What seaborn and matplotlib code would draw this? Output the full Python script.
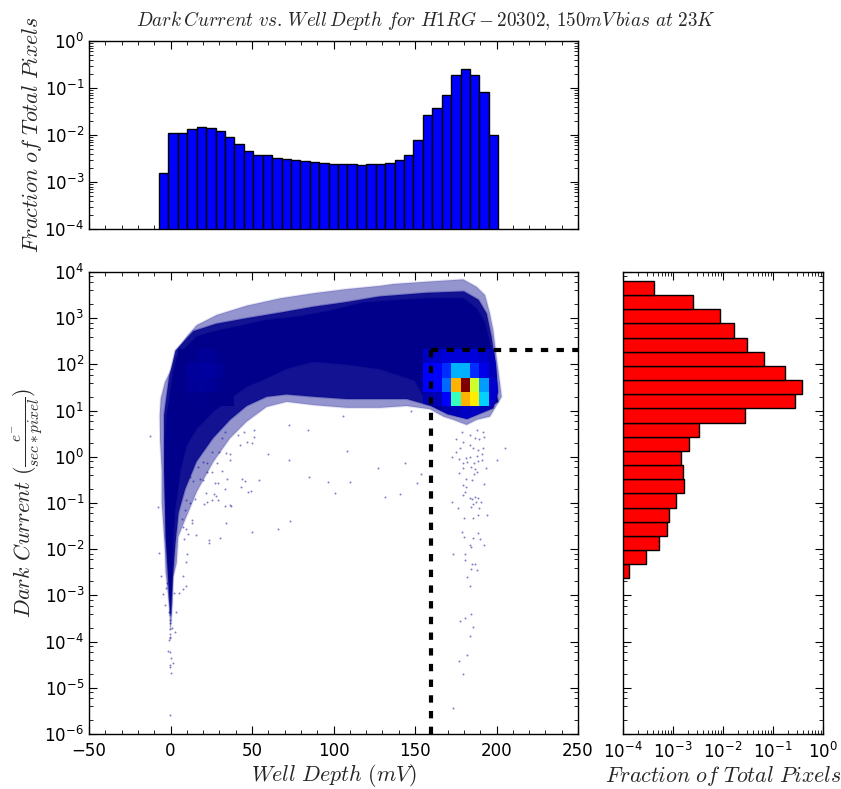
import numpy as np
import matplotlib
matplotlib.use("Agg")
import matplotlib.pyplot as plt
from matplotlib.patches import Polygon
from matplotlib.ticker import FixedLocator, LogLocator, MultipleLocator, NullFormatter
import seaborn as sns

sns.set_style("ticks")
plt.rcParams.update({
    'mathtext.fontset': 'cm',
    'lines.scale_dashes': False,
    'axes.edgecolor': 'black',
    'axes.linewidth': 1.0,
    'xtick.color': 'black',
    'ytick.color': 'black',
    'font.family': ['DejaVu Sans'],
})

# Well depth histogram (log10 of fraction, left to right)
depth_edges = np.linspace(-7.05, 201.1, 37)
depth_log_frac = [-2.81, -1.96, -1.96, -1.88, -1.84, -1.855, -1.92, -2.04, -2.195,
                  -2.337, -2.415, -2.436, -2.49, -2.515, -2.535, -2.556, -2.57, -2.59,
                  -2.61, -2.61, -2.61, -2.63, -2.61, -2.61, -2.59, -2.535, -2.415,
                  -2.096, -1.572, -1.416, -1.14, -0.73, -0.588, -0.73, -1.084, -2.0]

# Dark current histogram (log10 of fraction, top to bottom)
current_log_edges = np.linspace(3.805, -2.63, 22)
current_log_frac = [-3.38, -2.6, -2.053, -1.773, -1.513, -1.173, -0.76, -0.42, -0.56,
                    -1.567, -2.48, -2.673, -2.84, -2.807, -2.787, -2.933, -3.087,
                    -3.12, -3.287, -3.533, -3.887]

# Hot part of the 2D density, rows top to bottom
heat_log_edges = [2.33, 2.02, 1.71, 1.40, 1.09, 0.78]
heat_values = [[0.06, 0.07, 0.08, 0.08, 0.08, 0.08, 0.07, 0.05],
               [0.11, 0.11, 0.17, 0.30, 0.30, 0.17, 0.09, 0.05],
               [0.11, 0.11, 0.23, 0.72, 1.00, 0.60, 0.28, 0.07],
               [0.04, 0.05, 0.11, 0.42, 0.72, 0.66, 0.33, 0.07],
               [0.01, 0.02, 0.04, 0.05, 0.06, 0.06, 0.05, 0.03]]

# Faint bump of the density near the low well depth end
cold_log_edges = [2.33, 2.02, 1.71, 1.40, 1.09]
cold_values = [[0.01, 0.015, 0.02, 0.02, 0.015, 0.01],
               [0.015, 0.025, 0.03, 0.03, 0.02, 0.01],
               [0.015, 0.02, 0.025, 0.02, 0.015, 0.01],
               [0.01, 0.015, 0.015, 0.01, 0.01, 0.01]]

# Outlines of the pixel cloud (well depth, log10 dark current)
outer_cloud = [(0, -3.75), (-0.8, -3.2), (-3, -2.5), (-3.5, -2), (-4.4, -1.5), (-5.4, -1), (-5.4, -0.3),
               (-6.4, 0.36), (-6.6, 0.9), (-6.0, 1.26), (-3.4, 1.62), (0.7, 1.91), (4.8, 2.35), (9.9, 2.6),
               (16.1, 2.85), (28.4, 3.07), (46.7, 3.27), (67.2, 3.43), (87.7, 3.54), (108.1, 3.63),
               (128.5, 3.70), (136.7, 3.74), (157.2, 3.79), (179.6, 3.84), (187.8, 3.68), (193, 3.5),
               (196, 3.1), (198, 2.75), (200, 2.17), (202.2, 1.59), (203.2, 1.3), (196, 0.87), (187.8, 0.8),
               (181.7, 0.69), (173.5, 0.8), (167.4, 0.87), (159.2, 1.03), (144.9, 1.1), (128.5, 1.06),
               (108.1, 1.06), (87.7, 1.12), (71.3, 1.19), (59, 1.08), (46.7, 0.76), (36.5, 0.4), (26.3, -0.11),
               (16.1, -0.76), (14, -0.94), (8.9, -1.37), (4.8, -1.73), (3.8, -2.3), (1.7, -2.6), (1.2, -3.17),
               (0.5, -3.6)]
mid_cloud = [(0, -3.4), (-0.5, -3.2), (-1.5, -2.6), (-3, -1.7), (-3.5, -1), (-4, -0.3), (-4, 0.4), (-4, 0.9),
             (-2.5, 1.3), (-1, 1.7), (1, 2.0), (3, 2.3), (14, 2.72), (28, 2.88), (46.7, 3.0), (67, 3.12),
             (88, 3.25), (108, 3.35), (128, 3.47), (157, 3.55), (180, 3.58), (189, 3.4), (194, 3.1), (197, 2.6),
             (199.5, 2), (201, 1.4), (198, 1.05), (182, 0.82), (170, 0.92), (160, 1.1), (145, 1.25), (128, 1.25),
             (108, 1.25), (88, 1.3), (71, 1.35), (59, 1.3), (46.7, 1.1), (36.5, 0.8), (26, 0.4), (16, -0.1),
             (9, -0.7), (5, -1.2), (3, -1.9), (1.5, -2.6), (0.5, -3.2)]
core_cloud = [(0, -3.45), (-0.7, -2.88), (-2.8, -1.73), (-2.8, -1.08), (-3.4, -0.43), (-3.4, 0.36), (-2.3, 0.9),
              (-0.7, 1.26), (1.8, 1.84), (3.8, 2.13), (5.9, 2.24), (16.1, 2.6), (26.3, 2.71), (40.6, 2.82),
              (59, 2.96), (77.4, 3.03), (97.9, 3.16), (118.3, 3.34), (138.7, 3.39), (159.2, 3.43), (179.6, 3.43),
              (187.8, 3.21), (193, 2.89), (196, 2.46), (198.5, 1.88), (200, 1.37), (201.1, 1.19), (191.9, 1.01),
              (181.7, 0.87), (171.5, 0.98), (163.3, 1.12), (157.2, 1.19), (150, 1.65), (128.5, 1.9), (108.1, 2.0),
              (87.7, 2.06), (71.3, 1.91), (59, 1.70), (46.7, 1.52), (36.5, 1.26), (26.3, 0.98), (16.1, 0.61),
              (9.9, 0.25), (5.9, -0.32), (4.8, -0.65), (2.8, -1.15), (1.7, -1.73), (1.1, -2.3), (0.5, -2.88),
              (0.3, -3.39)]

# Stray pixels outside the cloud
stray_depth = [106.0, 108.3, 127.3, 143.9, 109.9, 100.7, 131.4, 141.0, 153.5, 151.2, 147.7,
               175.1, 178.6, 183.7, 187.8, 191.5, 192.3, 189.5, 186.8, 179.6, 183.7, 185.8, 188.9, 191.5,
               175.1, 177.6, 172.5, 177.2, 181.3, 183.7, 187.8, 191.3, 179.2, 182.1, 186.2, 188.9, 190.9,
               179.6, 184.1, 186.8, 188.2, 193.6, 177.2, 186.2, 181.3, 184.8, 179.6, 181.3, 192.3, 180.7,
               179.6, 183.7, 184.8, 186.8, 188.9, 190.5, 187.2, 172.9, 185.4, 184.1, 189.5, 176.6, 180.3,
               185.8, 188.9, 194.0, 179.0, 188.9, 180.1, 185.4, 189.9, 183.7, 184.6, 192.3, 173.3, 180.9,
               205.2, 200.5,
               180.7, 185.0, 187.0, 184.6, 188.2, 181.7, 183.7, 184.4, 180.9, 177.4, 185.6, 183.7, 181.7,
               177.0, 179.4, 173.3,
               7.9, 9.5, 7.9, 5.2, 2.4, -4.4, -5.8, -2.8, -1.9, -3.4, 3.2, -0.7, -0.3, -0.3, 0.7, -0.3, 2.6,
               -0.3, -0.3, -0.1, -0.9, -1.5, -0.1, 0.5, 1.3, -0.3, -0.3, 0.1, -0.3,
               -12.6, -7.9, -6.9, 9.5, 10.3, 8.5, 15.4, 10.9, 7.9, 9.5, 13.0, 13.4, 6.8, 8.9, 11.9, 15.0, 9.5,
               20.6, 22.2, 25.3, 27.7, 26.7, 21.8, 29.4, 33.4, 36.5, 37.0, 34.3, 23.6, 23.6, 30.2, 50.0, 65.9,
               73.1, 47.3, 49.2, 43.1, 33.4, 27.3, 29.4, 34.9, 44.1, 45.9, 54.1, 84.8, 96.6, 72.5, 59.8, 36.7,
               36.5, 33.8, 28.3, 22.6, 31.4, 25.3, 22.6, 20.1, 18.1, 14.0, 11.9, 17.1, 20.1, 25.7, 29.8, 42.6,
               46.7, 49.8, 51.4, 41.6, 45.3, 51.4, 72.7, 84.4, 33.4, 31.4]
stray_log_current = [0.883, 0.133, -0.235, -0.127, -0.538, -0.791, -0.863, -0.805, -0.372, -0.574, 0.991,
                     0.378, 0.53, 0.472, 0.58, 0.544, 0.436, 0.378, 0.40, 0.327, 0.255, 0.183, 0.147, 0.183,
                     0.097, 0.2, 0.003, -0.048, -0.033, 0.003, 0.025, 0.053, -0.142, -0.12, -0.127, -0.091, -0.076,
                     -0.25, -0.214, -0.271, -0.322, -0.25, -0.358, -0.372, -0.48, -0.509, -0.61, -0.646, -0.596, -0.762,
                     -0.834, -0.885, -0.92, -0.877, -0.899, -0.971, -0.971, -0.971, -1.029, -1.08, -1.101, -1.101, -1.325,
                     -1.332, -1.267, -1.26, -1.628, -1.657, -1.729, -1.75, -1.779, -1.909, -1.96, -1.916, -2.104, -2.097,
                     0.183, -0.07,
                     -2.241, -2.32, -2.32, -2.436, -2.45, -2.602, -2.804, -3.41, -3.49, -3.554, -3.691, -3.879, -4.283,
                     -4.42, -4.702, -5.43,
                     -2.58, -2.796, -2.868, -2.94, -2.94, -2.977, -2.58, -2.847, -2.74, -3.2, -3.366, -3.35, -3.53, -3.6,
                     -3.7, -3.72, -3.785, -3.835, -3.89, -3.93, -3.97, -4.2, -4.23, -4.35, -4.456, -4.51, -4.55, -4.69, -5.58,
                     0.45, -1.08, -2.09, -2.27, -2.10, -1.79, -1.69, -1.67, -1.53, -1.57, -1.37, -1.44, -1.35, -1.15, -1.01,
                     -0.92, -0.94, -1.03, -0.97, -0.94, -0.85, -0.80, -0.79, -0.94, -1.06, -1.04, -1.06, -1.44, -1.8, -1.86,
                     -1.76, -1.62, -1.57, -1.40, -0.76, -0.73, -0.65, -0.70, -0.57, -0.57, -0.47, -0.48, -0.53, -0.50, -0.43,
                     -0.55, -0.08, 0.07, -0.07, 0.05, 0.08, -0.14, -0.14, -0.30, -0.32, -0.32, -0.50, -0.47, -0.52, -0.43,
                     -0.21, -0.11, 0.11, 0.11, 0.26, 0.33, 0.29, 0.42, 0.47, 0.54, 0.58, 0.69, 0.57, 0.54, 0.40]

# Cut level drawn on the scatter panel
cut_depth = 160
cut_current = 200

FIG_W, FIG_H = 841, 789
LABEL_SIZE = 15.8


def add_axes_px(fig, left, top, right, bottom):
    return fig.add_axes([left / FIG_W, 1 - bottom / FIG_H, (right - left) / FIG_W, (bottom - top) / FIG_H])


def style_log_axis(axis, low, high, all_subs):
    subs = np.arange(2, 10) if all_subs else (2, 4, 6, 8)
    axis.set_major_locator(FixedLocator(10.0 ** np.arange(low, high + 1)))
    axis.set_minor_locator(LogLocator(base=10, subs=subs, numticks=high - low + 2))
    axis.set_minor_formatter(NullFormatter())


def style_ticks(ax):
    ax.tick_params(which='major', direction='in', top=True, right=True, length=6, width=0.8, labelsize=12)
    ax.tick_params(which='minor', direction='in', top=True, right=True, length=3, width=0.6)
    ax.grid(False)


fig = plt.figure(figsize=(FIG_W / 100, FIG_H / 100), dpi=100)
ax_top = add_axes_px(fig, 89, 41, 578, 229)
ax_main = add_axes_px(fig, 89, 272, 578, 734)
ax_right = add_axes_px(fig, 623, 272, 823, 734)

# Top histogram
depth_centres = (depth_edges[:-1] + depth_edges[1:]) / 2
sns.histplot(x=depth_centres, weights=10.0 ** np.array(depth_log_frac), bins=list(depth_edges), color="blue",
             alpha=1, edgecolor="black", linewidth=1, ax=ax_top)
ax_top.set_yscale("log")
ax_top.set_xlim(-50, 250)
ax_top.set_ylim(1e-4, 1)
ax_top.xaxis.set_minor_locator(MultipleLocator(10))
ax_top.xaxis.set_major_locator(MultipleLocator(50))
style_log_axis(ax_top.yaxis, -4, 0, True)
style_ticks(ax_top)
ax_top.tick_params(axis='x', labelbottom=False)
ax_top.set_xlabel("")
ax_top.set_ylabel(r"$Fraction\ of\ Total\ Pixels$", fontsize=LABEL_SIZE, labelpad=0)
ax_top.set_title(r"$Dark\,Current\ vs.\,Well\,Depth\ for\ H1RG-20302,\,150mV\,bias\ at\ 23K$", fontsize=13.8, pad=11,
                 x=0.69)

# Scatter panel: cloud outlines, density cells, stray pixels
CLOUD = "#00008b"
ax_main.set_xscale("linear")
ax_main.set_yscale("log")
for outline, alpha in [(outer_cloud, 0.42), (mid_cloud, 0.88), (core_cloud, 1.0)]:
    pts = np.array(outline, dtype=float)
    pts[:, 1] = 10.0 ** pts[:, 1]
    ax_main.add_patch(Polygon(pts, closed=True, facecolor=CLOUD, edgecolor="none", alpha=alpha, zorder=1))
    # soft rim so the cloud does not end in a hard line
    ax_main.add_patch(Polygon(pts, closed=True, fill=False, edgecolor=CLOUD, alpha=alpha * 0.25, lw=1.5, zorder=1))

clip_pts = np.array(mid_cloud, dtype=float)
clip_pts[:, 1] = 10.0 ** clip_pts[:, 1]
clip_shape = Polygon(clip_pts, closed=True, transform=ax_main.transData)

hot = ax_main.pcolormesh(depth_edges[28:37], 10.0 ** np.array(heat_log_edges), np.array(heat_values),
                         cmap="jet", vmin=0, vmax=1, zorder=2)
hot.set_clip_path(clip_shape)
cold = ax_main.pcolormesh(depth_edges[2:9], 10.0 ** np.array(cold_log_edges), np.array(cold_values),
                          cmap="jet", vmin=0, vmax=1, zorder=2, shading="flat")
cold.set_clip_path(clip_shape)

sns.scatterplot(x=stray_depth, y=10.0 ** np.array(stray_log_current), color=CLOUD, s=2, alpha=0.5,
                linewidth=0, marker="o", ax=ax_main, zorder=3)

ax_main.plot([cut_depth, 250], [cut_current, cut_current], color="black", lw=3, ls=(0, (5.3, 6)), zorder=4,
             dash_capstyle="butt")
ax_main.plot([cut_depth, cut_depth], [cut_current, 1e-6], color="black", lw=3, ls=(0, (5.3, 6)), zorder=4,
             dash_capstyle="butt")

ax_main.set_xlim(-50, 250)
ax_main.set_ylim(1e-6, 1e4)
ax_main.xaxis.set_major_locator(MultipleLocator(50))
ax_main.xaxis.set_minor_locator(MultipleLocator(10))
style_log_axis(ax_main.yaxis, -6, 4, False)
style_ticks(ax_main)
ax_main.tick_params(axis='x', which='major', pad=6)
ax_main.set_xlabel(r"$Well\ Depth\ (mV)$", fontsize=LABEL_SIZE, labelpad=1)
ax_main.set_ylabel(r"$Dark\ Current\ (\frac{e^{-}}{sec*pixel})$", fontsize=LABEL_SIZE, labelpad=-1)

# Right histogram
current_edges = 10.0 ** current_log_edges
current_centres = np.sqrt(current_edges[:-1] * current_edges[1:])
sns.histplot(y=current_centres, weights=10.0 ** np.array(current_log_frac), bins=list(current_log_edges[::-1]),
             log_scale=(False, True), color="red", alpha=1, edgecolor="black", linewidth=1, ax=ax_right)
ax_right.set_xscale("log")
ax_right.set_xlim(1e-4, 1)
ax_right.set_ylim(1e-6, 1e4)
style_log_axis(ax_right.xaxis, -4, 0, True)
style_log_axis(ax_right.yaxis, -6, 4, False)
style_ticks(ax_right)
ax_right.tick_params(axis='y', labelleft=False)
ax_right.tick_params(axis='x', which='major', pad=6)
ax_right.set_ylabel("")
ax_right.set_xlabel(r"$Fraction\ of\ Total\ Pixels$", fontsize=LABEL_SIZE, labelpad=1)

fig.savefig("out.png", dpi=100)
plt.close(fig)
